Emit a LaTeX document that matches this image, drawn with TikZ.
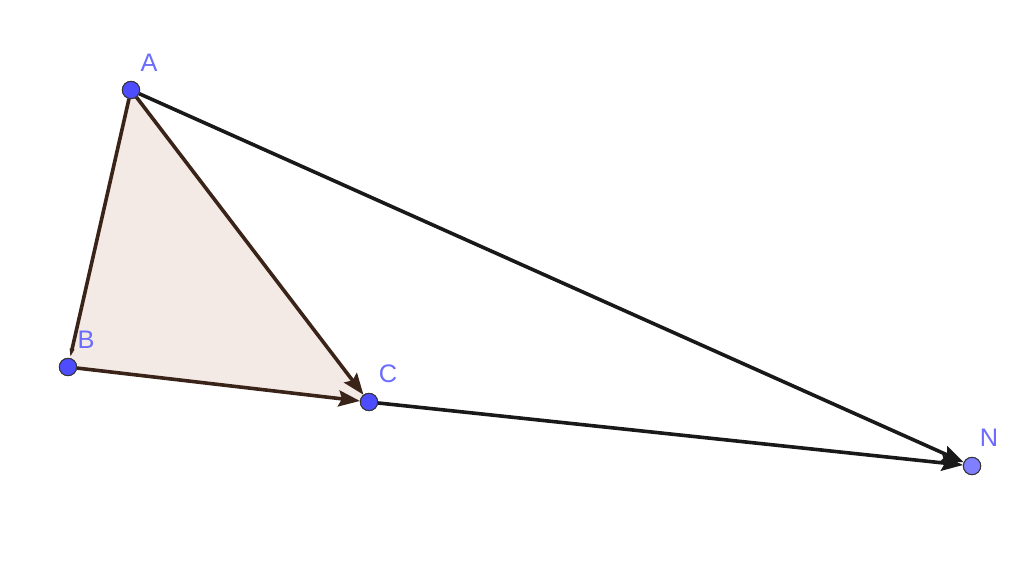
\documentclass[tikz,border=0pt]{standalone}
\usepackage{fontspec}
\setmainfont{Liberation Sans}
\usetikzlibrary{arrows.meta}
\definecolor{ptblue}{HTML}{4D4DFF}
\definecolor{ptlight}{HTML}{7F7FFF}
\definecolor{lblblue}{HTML}{6B6BFF}
\definecolor{triFill}{HTML}{F4EAE5}
\definecolor{edgeBrown}{HTML}{3A2419}
\tikzset{
  pt/.style={circle,draw=black!80,line width=0.7pt,fill=ptblue,inner sep=0pt,minimum size=13pt},
  ptN/.style={pt,fill=ptlight},
  lbl/.style={text=lblblue,font=\fontsize{19}{19}\selectfont,inner sep=0pt},
  vec/.style={line width=2.7pt,-{Stealth[length=16pt,width=12pt,inset=2.5pt]}},
  triedge/.style={vec,draw=edgeBrown},
  blkedge/.style={vec,draw=black!90}
}
\begin{document}
\begin{tikzpicture}[x=0.75pt,y=-0.75pt]
\useasboundingbox (0,0) rectangle (1024,582);
\coordinate (a) at (131,90);
\coordinate (b) at (68,367);
\coordinate (c) at (369,402);
\coordinate (n) at (972,466);
\fill[triFill] (a) -- (b) -- (c) -- cycle;
\node[pt] (A) at (a) {};
\node[pt] (B) at (b) {};
\node[pt] (C) at (c) {};
\node[ptN] (N) at (n) {};
\draw[triedge,-{Stealth[length=7pt,width=3pt,inset=0pt]}] (A) -- (B);
\draw[triedge] (B) -- (C);
\draw[triedge] (A) -- (C);
\draw[blkedge] (C) -- (N);
\draw[blkedge] (A) -- (N);
\node[pt] at (a) {};
\node[pt] at (b) {};
\node[pt] at (c) {};
\node[ptN] at (n) {};
\node[lbl] (LA) at (149,63) {A};
\node[lbl] (LB) at (86,340) {B};
\node[lbl] (LC) at (388,374) {C};
\node[lbl] (LN) at (989,438) {N};
\end{tikzpicture}
\end{document}
